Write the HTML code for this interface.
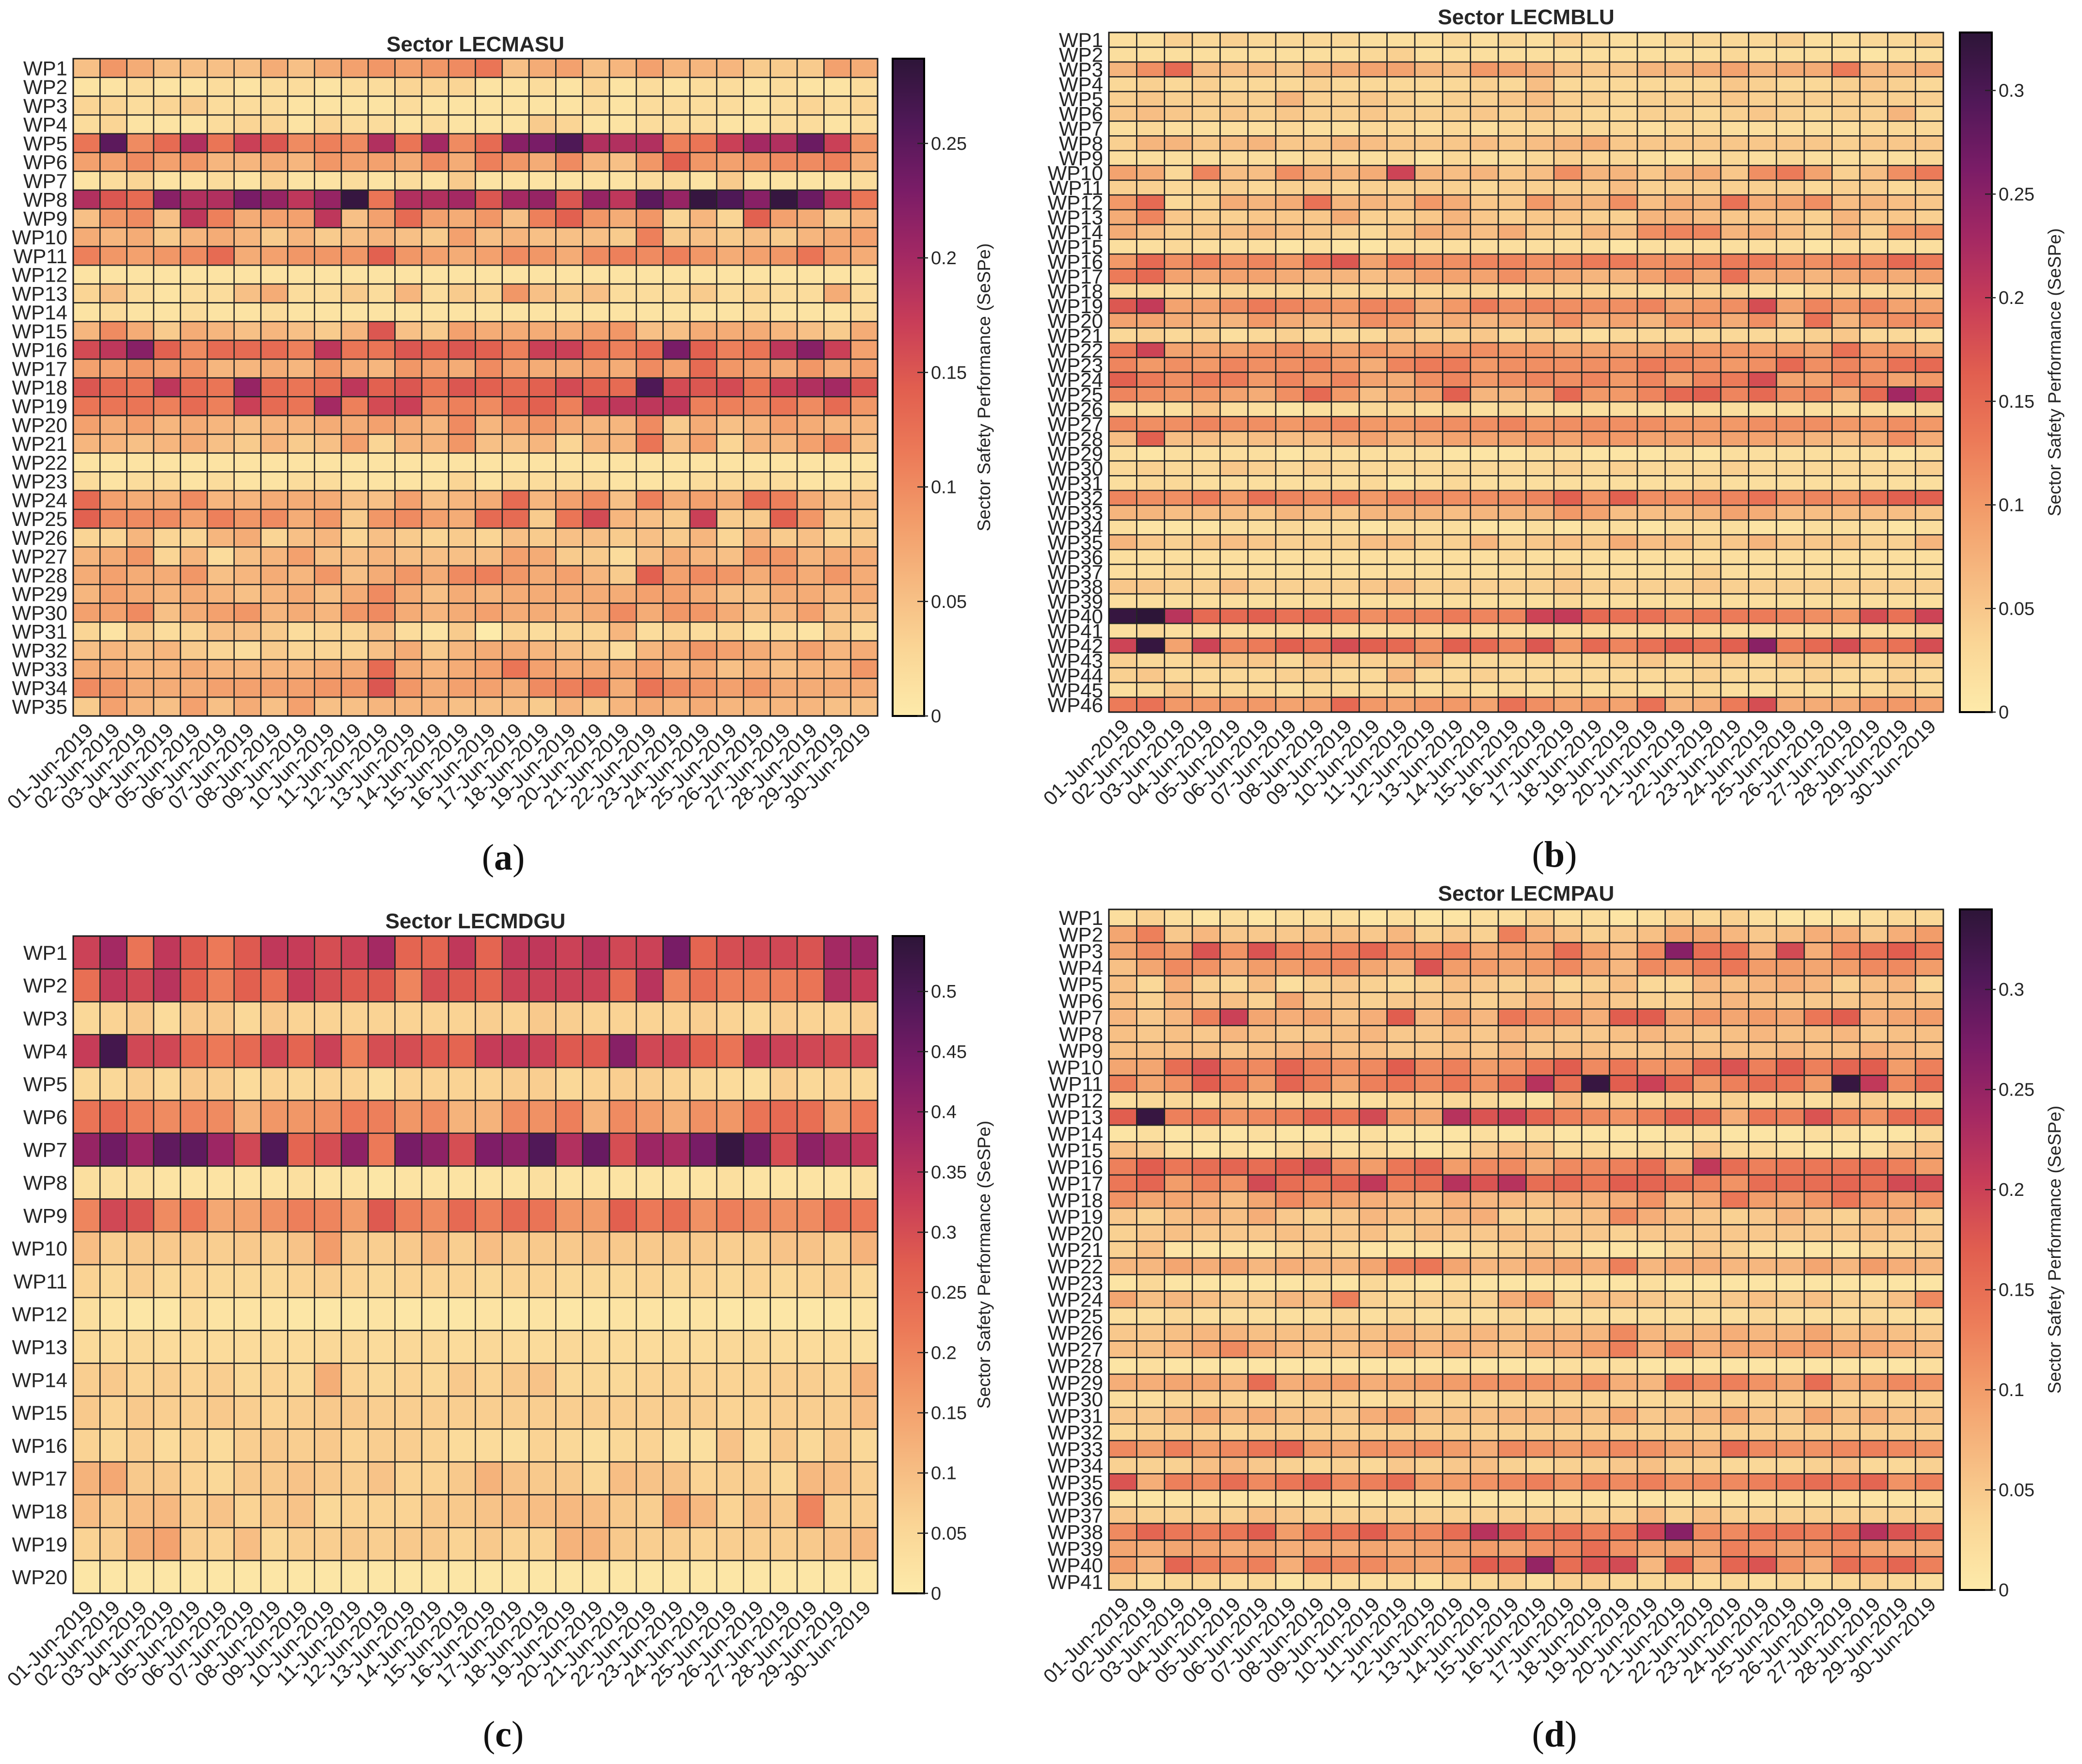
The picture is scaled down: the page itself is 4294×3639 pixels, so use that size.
<!DOCTYPE html>
<html>
<head>
<meta charset="utf-8">
<style>
html,body{margin:0;padding:0;background:#fff;}
svg{display:block;}
text{font-family:"Liberation Sans",sans-serif;fill:#262626;}
.serif{font-family:"Liberation Serif",serif;fill:#111;}
</style>
</head>
<body>
<svg id="fig" xmlns="http://www.w3.org/2000/svg" width="4294" height="3639" viewBox="0 0 4294 3639">
<defs>
<linearGradient id="cmap" x1="0" y1="1" x2="0" y2="0">
<stop offset="0" stop-color="rgb(253,234,170)"/>
<stop offset="0.1" stop-color="rgb(250,214,150)"/>
<stop offset="0.2" stop-color="rgb(246,185,128)"/>
<stop offset="0.3" stop-color="rgb(242,155,105)"/>
<stop offset="0.4" stop-color="rgb(236,122,88)"/>
<stop offset="0.5" stop-color="rgb(225,94,79)"/>
<stop offset="0.6" stop-color="rgb(200,61,88)"/>
<stop offset="0.7" stop-color="rgb(163,40,99)"/>
<stop offset="0.8" stop-color="rgb(122,28,103)"/>
<stop offset="0.9" stop-color="rgb(80,24,88)"/>
<stop offset="1" stop-color="rgb(45,21,56)"/>
</linearGradient>
</defs>
</svg>
<script>
// ---- data (values in hundredths of SeSPe) ----
const VALUE_UNIT = 0.01;
const dates = ["01-Jun-2019","02-Jun-2019","03-Jun-2019","04-Jun-2019","05-Jun-2019","06-Jun-2019","07-Jun-2019","08-Jun-2019","09-Jun-2019","10-Jun-2019","11-Jun-2019","12-Jun-2019","13-Jun-2019","14-Jun-2019","15-Jun-2019","16-Jun-2019","17-Jun-2019","18-Jun-2019","19-Jun-2019","20-Jun-2019","21-Jun-2019","22-Jun-2019","23-Jun-2019","24-Jun-2019","25-Jun-2019","26-Jun-2019","27-Jun-2019","28-Jun-2019","29-Jun-2019","30-Jun-2019"];
const lecmasuTicks = [0,0.05,0.1,0.15,0.2,0.25];
const lecmbluTicks = [0,0.05,0.1,0.15,0.2,0.25,0.3];
const lecmdguTicks = [0,0.05,0.1,0.15,0.2,0.25,0.3,0.35,0.4,0.45,0.5];
const lecmpauTicks = [0,0.05,0.1,0.15,0.2,0.25,0.3];
const lecmasuMax = 0.287, lecmbluMax = 0.328, lecmdguMax = 0.546, lecmpauMax = 0.34;

const lecmasuValues = [
[5,9,7,5,5,5,5,7,5,7,8,9,8,9,10,12,5,7,8,5,6,8,6,6,6,4,4,4,8,7],
[1,1,2,1,1,2,1,2,2,1,2,2,3,3,3,1,1,2,1,3,1,2,1,2,2,1,2,1,1,2],
[3,3,2,3,4,2,2,2,1,1,1,1,2,1,1,1,1,1,1,2,1,2,2,2,2,1,2,3,2,3],
[2,3,1,1,1,2,3,3,1,3,2,2,1,2,1,1,1,4,3,1,1,2,2,2,1,1,2,2,1,2],
[12,25,10,13,19,12,17,15,10,11,10,19,12,20,10,13,22,23,26,19,19,19,11,12,17,20,19,24,17,9],
[8,8,10,8,9,6,6,7,6,9,8,8,7,10,7,11,9,7,10,6,5,9,14,9,8,9,10,10,11,7],
[1,2,3,1,1,2,1,3,1,1,2,1,2,1,4,1,1,1,1,1,1,2,2,1,4,1,1,1,1,2],
[19,15,13,22,19,19,23,21,18,21,28,12,19,19,20,15,20,21,15,21,18,25,21,28,26,22,28,24,18,12],
[5,9,10,5,18,11,7,8,8,18,5,8,13,8,7,9,5,11,14,9,7,9,3,6,3,14,8,7,4,6],
[7,6,7,4,6,7,6,4,6,4,5,6,5,4,8,5,6,5,5,5,4,11,4,5,4,5,4,6,7,8],
[11,9,8,9,10,13,7,8,9,9,9,14,9,8,7,8,10,9,7,10,11,10,11,9,7,8,9,12,8,7],
[1,1,1,1,1,1,1,1,1,1,1,1,1,1,1,1,1,1,1,1,1,1,1,1,1,1,1,1,1,1],
[3,5,2,1,2,2,5,7,2,2,4,2,6,2,4,3,9,5,4,5,2,2,2,4,2,3,2,2,7,2],
[1,2,1,1,2,1,1,2,1,1,1,1,1,1,1,1,1,1,1,1,1,1,1,1,1,2,1,1,1,2],
[6,10,7,4,7,6,5,6,5,4,6,15,5,4,8,7,7,7,7,8,9,5,5,7,7,7,6,5,4,7],
[16,18,22,14,10,13,13,13,11,18,12,12,15,14,15,14,11,17,17,13,11,13,23,14,11,12,18,22,17,8],
[8,8,9,8,9,6,6,7,6,9,7,6,9,8,7,10,8,7,7,8,7,10,8,13,9,8,7,9,7,8],
[15,13,12,18,13,12,21,13,12,13,18,14,15,12,15,14,13,14,16,14,13,26,16,15,16,12,17,19,20,15],
[12,12,12,11,13,11,17,13,12,20,11,16,17,10,11,10,13,14,11,17,18,18,18,11,11,10,12,10,13,9],
[8,7,8,6,7,6,5,6,6,7,7,8,7,6,10,6,8,9,7,6,6,10,4,7,5,6,8,7,6,6],
[6,6,5,6,7,5,4,6,4,5,8,3,6,6,9,5,5,6,3,6,6,12,5,8,3,6,6,8,10,5],
[1,1,1,1,1,1,1,1,1,1,1,1,1,1,1,1,1,1,1,1,1,1,1,1,1,1,1,1,1,1],
[2,1,2,2,1,2,1,1,2,2,1,1,1,1,3,1,2,2,2,2,1,1,1,2,2,2,2,1,1,2],
[13,8,7,7,10,6,6,7,7,7,5,5,8,5,6,7,13,6,8,10,5,11,7,8,7,13,11,7,5,5],
[14,10,10,10,8,11,9,10,7,9,4,9,10,8,7,13,13,4,12,16,6,5,4,17,4,4,14,9,4,4],
[3,3,6,3,3,6,7,3,5,6,3,5,4,3,4,3,5,4,5,5,4,5,4,6,3,6,4,5,3,4],
[6,7,9,3,6,2,5,6,8,5,5,6,5,5,5,5,8,7,4,4,2,5,7,6,5,9,9,6,7,7],
[7,8,7,7,9,5,6,7,6,9,5,7,9,7,10,11,9,7,8,6,4,14,8,10,9,7,9,7,9,7],
[6,8,7,6,7,6,5,6,7,5,7,10,7,5,7,6,7,7,7,7,7,8,8,7,5,5,7,7,6,7],
[8,8,10,5,7,8,9,6,7,6,9,10,7,6,7,8,7,7,6,7,10,7,9,9,7,5,6,8,5,5],
[3,1,4,2,3,5,5,4,2,3,3,5,2,1,4,0,3,2,3,3,6,2,3,2,3,1,2,1,4,2],
[5,6,5,6,4,3,2,4,3,3,3,5,7,4,6,7,7,6,5,4,2,6,7,9,8,7,6,8,6,7],
[7,7,6,6,7,6,6,6,6,7,7,13,7,6,7,8,12,8,7,7,7,8,6,7,5,6,5,6,6,9],
[10,9,7,7,7,8,8,8,8,9,9,15,9,7,8,8,7,10,11,12,7,12,10,9,8,9,7,7,7,7],
[4,8,6,5,8,5,7,5,8,5,5,6,6,6,5,5,5,4,6,4,6,7,6,7,6,6,6,6,5,5]
];

const lecmbluValues = [
[2,2,4,3,4,3,3,3,3,2,2,2,3,2,3,2,4,3,2,2,3,3,3,3,4,2,2,3,3,4],
[2,2,2,2,2,2,2,2,2,3,4,2,2,2,2,2,2,2,2,2,2,2,3,2,2,2,2,1,2,2],
[7,11,15,6,6,6,5,7,8,9,9,7,6,10,9,8,6,5,5,7,7,8,9,7,8,8,13,7,7,8],
[3,4,3,4,3,3,3,4,3,3,3,3,3,4,3,6,3,3,3,3,3,3,5,4,3,3,4,5,4,3],
[4,5,4,4,4,4,7,4,4,5,4,3,4,4,5,6,4,4,3,4,4,4,5,4,4,4,4,4,4,4],
[5,6,5,4,5,4,5,4,4,5,4,4,4,5,4,5,4,3,3,4,4,3,4,5,4,3,4,4,7,3],
[2,3,2,2,2,2,3,2,2,3,3,2,3,2,3,3,3,3,3,2,3,3,2,2,2,2,2,3,3,3],
[4,7,7,5,6,7,5,5,7,6,5,5,5,6,5,6,7,8,5,5,5,5,5,5,5,5,4,5,5,5],
[2,2,2,2,2,2,2,3,2,2,3,1,3,2,2,3,4,3,3,2,1,2,3,2,3,2,2,2,2,3],
[9,8,3,12,6,6,11,8,7,8,19,7,6,7,5,6,11,7,7,5,7,8,5,11,13,9,4,6,11,13],
[4,4,3,3,4,3,4,4,3,4,4,4,4,3,4,4,4,4,6,4,4,4,4,4,4,3,4,4,3,4],
[10,15,3,4,8,7,8,14,7,7,6,10,8,5,5,10,7,7,11,6,8,7,14,8,9,11,6,7,6,5],
[8,12,5,4,4,5,5,5,8,4,4,5,7,5,4,5,5,4,4,7,7,6,5,5,5,4,7,5,5,4],
[8,6,4,5,6,7,6,5,4,3,5,8,7,6,8,5,4,7,6,11,12,12,7,8,6,4,7,4,10,11],
[2,2,3,2,2,2,1,2,1,1,2,2,2,2,2,2,2,2,1,2,2,2,2,2,2,1,2,2,2,2],
[10,15,11,13,11,12,10,14,17,9,13,11,11,12,12,11,12,13,13,11,11,12,13,13,11,11,12,12,15,13],
[13,15,9,8,9,9,8,7,7,6,7,9,9,9,11,9,8,7,7,9,11,8,14,8,8,7,8,9,8,9],
[3,3,2,2,3,3,3,3,3,3,3,3,3,3,2,3,3,3,3,2,3,3,3,2,1,3,3,2,3,2],
[17,20,9,9,11,13,12,11,10,12,12,8,10,13,11,12,11,11,11,12,9,10,11,18,9,12,10,12,9,9],
[9,9,8,7,7,10,8,7,8,11,10,7,8,7,8,8,11,8,9,7,10,10,8,11,6,14,7,10,11,11],
[3,4,3,4,2,3,4,3,3,3,5,4,4,5,3,4,3,2,3,3,3,3,3,3,3,4,5,3,3,2],
[13,19,9,9,9,10,11,10,9,10,9,10,10,11,10,10,9,9,9,9,10,10,10,10,10,9,14,10,10,9],
[12,10,11,10,12,11,11,12,10,8,12,13,13,10,11,11,11,11,11,13,12,11,10,11,15,11,12,11,14,15],
[16,13,11,13,13,10,12,10,12,9,8,11,12,10,11,12,11,12,10,12,9,12,13,18,9,9,12,11,9,10],
[12,11,10,10,9,8,11,15,10,6,8,9,16,7,7,8,15,10,10,12,15,16,12,15,11,12,8,15,23,19],
[2,2,2,5,2,2,1,2,2,3,3,2,3,2,3,2,2,2,2,2,2,2,2,2,2,2,2,2,2,3],
[12,11,11,12,11,11,10,11,12,10,10,11,11,11,12,10,11,11,11,11,10,10,10,11,11,11,10,10,11,10],
[6,16,6,6,5,6,6,6,8,9,7,8,9,9,9,10,9,10,10,9,9,9,9,9,8,7,6,8,11,8],
[2,1,2,2,2,2,1,2,2,2,2,2,1,1,1,2,2,1,1,1,2,1,2,2,2,2,2,2,1,2],
[3,4,3,3,5,4,3,4,3,3,3,3,3,3,3,3,4,3,4,3,3,3,4,3,3,3,3,3,3,4],
[2,3,3,2,2,2,2,2,2,3,1,2,3,2,2,2,2,2,2,2,2,3,2,2,2,2,2,2,2,2],
[12,11,11,13,10,14,12,11,13,10,12,12,11,11,11,12,16,11,16,11,11,12,12,14,11,12,11,14,16,16],
[7,7,6,6,6,5,7,6,5,7,7,7,6,7,7,7,10,9,6,6,6,7,9,8,6,6,6,6,6,5],
[2,1,1,1,2,2,3,2,2,1,2,2,2,1,1,2,1,2,2,1,2,2,2,1,1,2,2,2,1,2],
[7,5,4,5,6,5,4,4,4,6,6,4,4,7,4,5,6,5,8,6,6,4,5,7,5,5,5,4,4,7],
[2,2,2,2,2,2,2,2,2,2,2,2,2,2,3,2,2,2,2,2,2,2,2,2,2,2,2,2,2,2],
[2,2,3,2,2,2,2,2,2,2,2,2,2,2,2,3,4,2,2,2,2,4,2,2,2,2,2,2,2,2],
[5,5,4,4,6,4,4,4,4,5,6,4,4,4,4,4,5,4,4,4,4,5,4,4,4,4,4,4,4,4],
[2,2,2,2,2,2,2,2,2,2,2,2,2,2,2,2,3,2,2,2,2,2,2,2,2,2,2,2,2,2],
[32,33,21,15,15,16,14,15,13,11,12,12,13,12,12,19,20,15,14,14,12,13,13,13,12,11,10,18,14,19],
[2,3,2,2,2,2,2,2,2,2,2,2,2,2,2,2,2,2,2,2,2,2,2,2,2,2,2,2,2,3],
[19,32,9,19,12,13,16,14,18,16,15,11,16,15,12,17,10,15,12,14,16,14,16,25,13,15,18,13,14,18],
[4,3,3,4,5,5,3,5,4,4,4,7,3,3,3,3,3,3,4,5,3,4,4,3,5,4,4,3,4,4],
[4,5,3,3,3,3,4,4,3,3,7,3,3,4,3,3,3,3,3,3,3,4,3,3,3,4,3,3,4,3],
[2,3,5,3,3,3,2,3,3,3,3,2,3,2,3,2,3,2,3,2,3,3,2,2,3,2,2,3,4,3],
[13,14,10,10,10,10,9,9,15,10,9,10,10,9,14,11,9,10,9,14,7,8,13,18,8,8,8,10,10,9]
];

const lecmdguValues = [
[32,38,23,34,28,22,28,34,33,30,32,38,26,26,34,26,34,34,32,35,31,32,44,26,30,31,31,29,38,39],
[24,34,31,35,27,21,27,24,33,30,28,28,20,30,28,26,32,32,32,32,25,35,20,24,21,21,21,23,36,33],
[5,6,8,4,8,8,5,8,6,6,6,6,6,6,6,7,6,8,7,6,6,6,6,7,6,5,7,6,6,7],
[33,51,31,31,25,22,25,31,26,32,21,30,30,28,26,33,34,32,28,28,42,31,31,27,23,33,32,31,30,31],
[5,5,7,5,8,7,4,6,5,6,6,3,6,6,6,6,7,7,5,6,7,7,6,5,4,3,7,5,6,5],
[23,25,21,19,20,19,12,17,17,18,22,21,17,19,12,12,19,18,21,12,19,16,13,18,17,23,25,24,16,22],
[40,45,39,47,47,39,31,49,26,30,41,22,44,41,30,43,41,49,36,46,30,39,37,44,53,45,30,41,37,34],
[3,3,3,2,2,2,2,2,3,2,2,1,2,2,2,2,2,3,2,2,2,2,2,2,3,2,2,2,2,3],
[20,31,29,19,22,14,15,18,21,20,16,28,21,19,25,21,25,23,17,16,27,22,24,18,21,19,18,19,23,22],
[10,7,8,8,8,7,8,7,9,16,8,7,8,11,7,10,8,8,8,9,8,8,8,8,7,7,9,9,7,12],
[6,5,7,5,6,5,5,5,6,7,6,5,6,6,6,5,6,6,5,5,5,6,5,6,5,6,5,6,7,5],
[3,2,1,1,4,2,2,2,1,1,1,2,1,1,1,2,1,2,1,1,2,2,1,2,1,1,1,1,1,2],
[4,4,5,4,4,4,4,4,4,5,5,4,5,5,4,5,4,4,5,4,4,4,4,4,5,5,4,4,4,3],
[7,8,6,7,6,7,5,6,5,13,6,5,6,5,8,6,8,9,5,5,5,6,6,6,6,6,7,7,6,12],
[8,6,8,7,7,8,7,6,7,8,8,7,7,7,7,7,7,7,7,7,7,7,7,7,6,6,7,7,7,10],
[6,5,7,4,6,4,7,8,7,8,6,7,7,6,4,4,3,6,5,3,5,6,3,3,9,4,8,5,8,5],
[12,14,8,8,6,5,8,8,9,8,7,9,6,6,8,12,9,8,8,5,10,9,9,6,7,7,5,11,10,7],
[10,8,10,11,7,9,6,8,9,5,6,6,6,8,8,9,10,10,11,10,8,7,14,11,6,9,8,20,7,7],
[6,7,13,15,7,6,10,5,7,7,8,7,8,8,6,8,6,6,12,12,8,7,7,6,7,7,7,8,9,11],
[1,1,1,1,1,1,1,1,1,1,1,1,1,1,1,1,1,1,1,1,1,1,1,1,1,1,1,1,1,1]
];

const lecmpauValues = [
[2,4,2,1,2,1,2,2,2,1,2,1,1,2,2,4,2,2,1,2,4,3,4,2,1,1,1,2,3,3],
[9,13,5,7,5,5,5,6,6,5,7,4,5,4,13,8,6,4,5,6,9,9,7,5,6,8,8,5,8,10],
[9,12,10,18,11,18,13,12,13,16,12,12,13,9,10,10,15,10,7,12,26,15,15,8,19,8,13,15,17,14],
[6,9,12,11,8,10,10,11,12,9,7,18,10,10,9,10,12,9,7,12,11,13,14,10,10,9,10,12,12,10],
[6,3,8,4,3,6,2,4,5,4,3,4,6,5,4,5,3,4,6,3,3,7,6,7,8,7,4,6,7,3],
[6,4,7,5,6,4,9,5,5,4,5,5,5,4,5,7,5,6,5,4,4,6,7,6,5,5,5,6,6,6],
[7,5,7,13,20,9,8,9,6,8,17,7,10,7,14,12,12,8,17,17,9,11,9,10,9,14,17,8,9,10],
[6,5,6,5,7,6,5,5,6,7,5,5,6,5,7,6,5,5,6,7,6,5,6,7,6,6,7,5,6,6],
[6,6,6,6,5,6,7,8,6,6,5,5,6,5,7,5,6,6,5,5,6,6,6,6,7,6,6,8,7,6],
[9,9,15,18,13,12,16,13,11,12,17,12,13,10,11,14,17,12,14,11,11,16,18,13,17,13,16,17,10,13],
[13,9,11,17,14,10,16,13,9,13,14,12,14,11,15,22,15,33,17,20,16,10,13,15,14,10,33,21,12,15],
[2,3,3,2,4,2,2,2,2,2,3,3,3,3,2,1,6,3,3,2,3,3,4,2,3,2,3,4,2,2],
[17,33,13,14,11,12,13,16,14,19,10,9,22,18,20,16,13,12,11,13,16,15,8,14,13,18,13,11,15,15],
[1,2,1,2,1,2,1,1,1,2,1,1,1,2,1,2,1,1,1,1,2,2,1,1,1,2,2,1,1,3],
[6,5,2,1,2,1,3,4,2,3,2,1,2,5,7,6,3,3,2,3,2,6,3,3,2,1,1,2,5,7],
[13,17,14,15,16,15,17,19,12,10,14,16,10,12,12,9,12,12,13,15,10,21,15,13,14,14,14,15,13,10],
[14,16,10,13,11,19,15,14,16,21,14,15,22,18,22,15,16,14,17,16,15,13,11,15,15,15,16,15,19,19],
[11,9,9,8,6,9,12,10,9,8,7,6,8,7,7,6,7,7,8,11,6,8,14,10,9,11,14,11,9,11],
[5,4,6,7,6,8,5,4,5,7,6,6,7,8,4,4,5,6,12,8,6,5,4,5,7,5,4,6,7,4],
[4,5,6,5,5,5,6,5,5,6,4,6,5,5,6,5,5,5,4,5,5,5,5,5,5,5,5,6,5,5],
[4,6,1,1,1,1,3,4,3,1,1,1,1,3,4,5,3,1,1,1,3,5,4,2,1,1,1,3,3,4],
[7,7,9,8,9,7,8,7,7,9,13,14,9,7,7,8,9,8,13,7,8,8,7,7,7,9,7,10,8,7],
[1,3,1,1,1,1,1,2,1,3,2,1,2,1,1,1,1,1,1,2,1,1,1,1,1,1,1,1,1,1],
[9,6,7,6,5,5,7,6,13,4,3,4,4,4,8,10,4,6,6,5,4,4,5,6,5,6,4,4,6,12],
[2,2,3,2,2,2,2,2,3,2,3,2,2,2,3,2,2,2,2,2,2,2,2,3,2,2,2,3,2,2],
[5,5,6,7,7,6,6,6,6,6,7,6,6,7,6,7,7,7,12,7,6,7,8,7,7,9,6,7,6,5],
[6,6,7,9,12,9,7,6,6,7,9,7,8,7,6,8,8,10,13,8,12,8,9,9,10,10,9,9,8,7],
[1,2,1,1,1,1,1,1,1,1,1,1,1,1,1,1,2,2,2,1,1,1,1,1,1,1,1,1,1,2],
[8,8,9,9,8,15,8,9,10,8,9,10,10,11,11,11,10,12,8,7,14,12,13,11,9,15,8,10,12,11],
[2,2,3,3,3,2,3,3,3,2,3,3,3,3,3,3,3,3,3,3,3,3,3,3,3,3,3,3,3,3],
[5,5,7,9,7,8,6,6,5,8,10,6,6,6,7,7,7,6,9,5,6,7,9,6,5,9,6,8,6,6],
[3,4,4,4,3,4,4,4,4,4,4,4,4,4,4,4,4,4,4,4,4,4,4,4,4,4,4,4,4,4],
[12,10,13,10,12,14,16,10,9,11,11,12,10,8,12,11,10,11,12,11,9,8,15,12,11,11,12,13,12,11],
[4,4,4,6,7,5,4,3,4,3,5,4,5,6,4,3,4,4,5,6,4,4,3,3,3,4,5,3,3,4],
[18,8,13,12,15,12,14,16,12,13,15,10,10,11,12,13,11,13,12,13,11,12,12,13,14,15,14,16,11,13],
[1,1,1,1,1,1,1,1,1,1,1,1,1,1,1,1,1,1,1,1,1,1,1,1,1,1,1,1,1,1],
[5,4,4,4,4,6,5,4,4,4,4,4,4,4,4,4,4,4,4,7,4,6,4,4,4,4,4,4,4,4],
[12,16,14,13,14,17,10,14,14,17,12,12,15,22,18,14,15,13,14,20,26,12,12,14,14,13,15,22,18,16],
[9,8,9,9,8,9,8,8,8,9,8,9,9,10,9,11,12,15,11,9,9,9,13,11,9,10,11,9,8,8],
[10,7,16,13,12,13,8,13,12,12,10,9,10,17,16,25,15,18,19,7,17,8,16,18,11,8,15,14,16,13],
[4,2,3,3,2,3,1,2,2,2,2,1,3,3,4,2,4,4,3,3,3,2,3,2,3,2,3,4,3,2]
];

// ---- rendering ----
const NS = "http://www.w3.org/2000/svg";
const svg = document.getElementById("fig");
const STOPS = [[0,[253,234,170]],[0.1,[250,214,150]],[0.2,[246,185,128]],[0.3,[242,155,105]],[0.4,[236,122,88]],[0.5,[225,94,79]],[0.6,[200,61,88]],[0.7,[163,40,99]],[0.8,[122,28,103]],[0.9,[80,24,88]],[1,[45,21,56]]];
function cmap(t){
  t = Math.max(0, Math.min(1, t));
  for (let i = 1; i < STOPS.length; i++) {
    if (t <= STOPS[i][0]) {
      const a = STOPS[i-1], b = STOPS[i];
      const f = (t - a[0]) / (b[0] - a[0]);
      const c = a[1].map((v, k) => Math.round(v + (b[1][k] - v) * f));
      return "rgb(" + c.join(",") + ")";
    }
  }
  return "rgb(45,21,56)";
}
function mk(tag, attrs, parent){
  const e = document.createElementNS(NS, tag);
  for (const k in attrs) e.setAttribute(k, attrs[k]);
  (parent || svg).appendChild(e);
  return e;
}

function drawPanel(p){
  const g = mk("g", {});
  
  
  const rows = p.values.length, cols = dates.length;
  const cw = (p.x1 - p.x0) / cols, rh = (p.y1 - p.y0) / rows;
  const xAt = j => p.x0 + j * cw;
  const yAt = i => p.y0 + i * rh;
  const cScale = v => cmap(v * VALUE_UNIT / p.max);
  for (let i = 0; i < rows; i++) {
    for (let j = 0; j < cols; j++) {
      const r = mk("rect", {x: xAt(j), y: yAt(i), width: cw, height: rh, fill: cScale(p.values[i][j]), stroke: "#262626", "stroke-width": 2.6}, g);
      
      
    }
  }
  const fr = mk("rect", {x: p.x0, y: p.y0, width: p.x1 - p.x0, height: p.y1 - p.y0, fill: "none", stroke: "#1a1a1a", "stroke-width": 3}, g);
  
  
  const t = mk("text", {x: (p.x0 + p.x1) / 2, y: p.titleY, "text-anchor": "middle", "font-size": 44, "font-weight": "bold"}, g);
  t.textContent = p.title;
  
  
  for (let i = 0; i < rows; i++) {
    const yl = mk("text", {x: p.x0 - 12, y: yAt(i) + rh / 2 + 15, "text-anchor": "end", "font-size": 42}, g);
    yl.textContent = "WP" + (i + 1);
    
    
  }
  for (let j = 0; j < cols; j++) {
    const ax = xAt(j) + cw / 2 + 16, ay = p.y1 + 32;
    const xl = mk("text", {x: ax, y: ay, "text-anchor": "end", "font-size": 41, transform: "rotate(-45 " + ax + " " + ay + ")"}, g);
    xl.textContent = dates[j];
    
    
  }
  const cb = mk("rect", {x: p.cbx0, y: p.y0, width: p.cbx1 - p.cbx0, height: p.y1 - p.y0, fill: "url(#cmap)", stroke: "#000", "stroke-width": 4}, g);
  
  
  const cbY = v => p.y1 - (v / p.max) * (p.y1 - p.y0);
  p.ticks.forEach(v => {
    const y = cbY(v);
    const tl = mk("line", {x1: p.cbx1 - 14, x2: p.cbx1 + 8, y1: y, y2: y, stroke: "#222", "stroke-width": 2.5}, g);
    
    
    const tx = mk("text", {x: p.cbx1 + 14, y: y + 13, "font-size": 38}, g);
    tx.textContent = String(v);
    
    
  });
  const cy = (p.y0 + p.y1) / 2;
  const cl = mk("text", {x: p.cbLabelX, y: cy, "text-anchor": "middle", "font-size": 37, transform: "rotate(-90 " + p.cbLabelX + " " + cy + ")"}, g);
  cl.textContent = "Sector Safety Performance (SeSPe)";
  
  
  const pl = mk("text", {x: p.letterX, y: p.letterY, "text-anchor": "middle", "font-size": 76, "class": "serif"}, g);
  pl.innerHTML = '(<tspan font-weight="bold">' + p.letter + '</tspan>)';
  
  
}

drawPanel({id: "lecmasu", title: "Sector LECMASU", values: lecmasuValues, max: lecmasuMax, ticks: lecmasuTicks,
  x0: 151, x1: 1810, y0: 121, y1: 1477, cbx0: 1841, cbx1: 1906, titleY: 106, cbLabelX: 2042, letter: "a", letterX: 1038, letterY: 1794});
drawPanel({id: "lecmblu", title: "Sector LECMBLU", values: lecmbluValues, max: lecmbluMax, ticks: lecmbluTicks,
  x0: 2287, x1: 4008, y0: 67, y1: 1469, cbx0: 4042, cbx1: 4108, titleY: 50, cbLabelX: 4250, letter: "b", letterX: 3206, letterY: 1788});
drawPanel({id: "lecmdgu", title: "Sector LECMDGU", values: lecmdguValues, max: lecmdguMax, ticks: lecmdguTicks,
  x0: 151, x1: 1810, y0: 1931, y1: 3287, cbx0: 1841, cbx1: 1906, titleY: 1915, cbLabelX: 2042, letter: "c", letterX: 1038, letterY: 3603});
drawPanel({id: "lecmpau", title: "Sector LECMPAU", values: lecmpauValues, max: lecmpauMax, ticks: lecmpauTicks,
  x0: 2287, x1: 4008, y0: 1876, y1: 3280, cbx0: 4042, cbx1: 4108, titleY: 1858, cbLabelX: 4250, letter: "d", letterX: 3206, letterY: 3603});
</script>
</body>
</html>
